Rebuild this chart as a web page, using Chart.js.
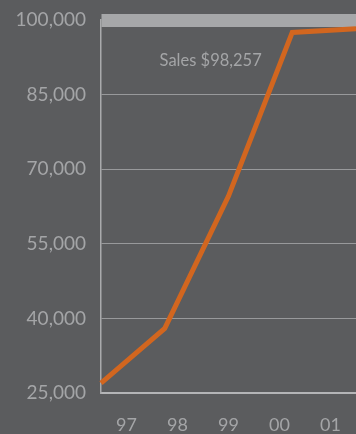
<!DOCTYPE html>
<html>
<head>
<meta charset="utf-8">
<script src="https://cdn.jsdelivr.net/npm/chart.js@4"></script>
<style>
  html, body { margin: 0; padding: 0; background: #5b5c5e; }
  #wrap { width: 356px; height: 434px; position: relative; }
</style>
</head>
<body>
<div id="wrap"><canvas id="salesChart"></canvas></div>
<script>
const years = ['97', '98', '99', '00', '01'];
const sales = [27000, 38000, 64600, 97500, 98257];
const yTicks = [25000, 40000, 55000, 70000, 85000, 100000];
const calloutText = 'Sales $98,257';

const labelColor = '#a4a5a7';
const lineColor = '#d2661f';

// callout text inside the plot
const calloutPlugin = {
    id: 'callout',
    afterDatasetsDraw(chart) {
        const ctx = chart.ctx;
        const area = chart.chartArea;
        ctx.save();
        ctx.font = '16.5px Lato';
        ctx.fillStyle = labelColor;
        ctx.textAlign = 'center';
        ctx.textBaseline = 'middle';
        ctx.fillText(calloutText, area.left + (area.right - area.left) * 0.43, area.top + 41);
        ctx.restore();
    }
};

const ctx = document.getElementById('salesChart').getContext('2d');
new Chart(ctx, {
    type: 'line',
    data: {
        labels: years,
        datasets: [{
            label: 'Sales',
            data: sales,
            xAxisID: 'xData',
            borderColor: lineColor,
            borderWidth: 5,
            pointRadius: 0,
            tension: 0,
            fill: false
        }]
    },
    options: {
        responsive: true,
        maintainAspectRatio: false,
        animation: false,
        layout: { padding: { top: 20, right: 0, bottom: 0, left: 0 } },
        plugins: {
            legend: { display: false },
            tooltip: { enabled: false }
        },
        scales: {
            x: {
                type: 'category',
                offset: true,
                grid: { display: false },
                border: { display: true, color: '#b4b5b7', width: 2 },
                ticks: {
                    color: labelColor,
                    font: { family: 'Lato', size: 18 },
                    padding: 13,
                    maxRotation: 0
                },
                afterFit(scale) { scale.height = 41; }
            },
            xData: {
                type: 'category',
                offset: false,
                display: false
            },
            y: {
                min: 25000,
                max: 100000,
                afterBuildTicks(scale) {
                    scale.ticks = yTicks.map(v => ({ value: v }));
                },
                grid: {
                    drawTicks: false,
                    color: c => (c.tick && c.tick.value === 100000 ? '#a6a7a9' : '#98999b'),
                    lineWidth: c => (c.tick && c.tick.value === 100000 ? 13 : 1)
                },
                border: { display: true, color: '#a9aaac', width: 1.5 },
                ticks: {
                    color: labelColor,
                    font: { family: 'Lato', size: 19 },
                    padding: 15,
                    callback: v => v.toLocaleString('en-US')
                },
                afterFit(scale) {
                    scale.width = 101;
                    scale.paddingTop = 0;
                    scale.paddingBottom = 0;
                }
            }
        }
    },
    plugins: [calloutPlugin]
});
</script>
</body>
</html>
